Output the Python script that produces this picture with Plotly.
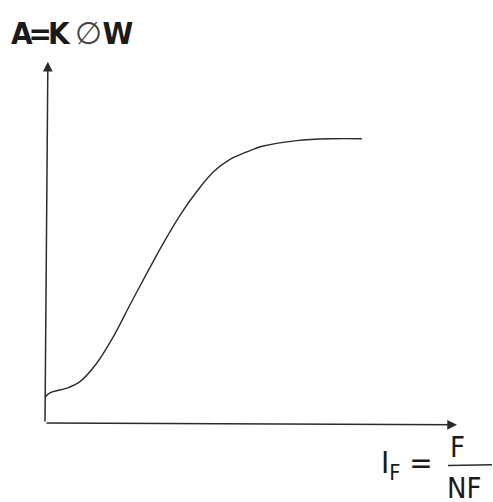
'''
    Magnetisation curve sketch
'''
import plotly.graph_objects as go

# field current (arbitrary units) and generated emf A = K*phi*w
field_current = [0.0, 0.12, 0.53, 0.85, 1.25, 1.66, 2.06, 2.47, 2.87, 3.28,
                 3.68, 4.09, 4.49, 4.90, 5.30, 6.11, 6.92, 7.69]
emf = [0.71, 0.83, 0.96, 1.14, 1.64, 2.38, 3.25, 4.12, 4.95, 5.73,
       6.37, 6.92, 7.26, 7.47, 7.63, 7.78, 7.83, 7.83]

x_label_top = 'F'
x_label_bottom = 'NF'
y_label = ('<span style="letter-spacing:-4px;font-weight:600">A=K</span>'
           '<span style="font-family:DejaVu Sans;font-weight:200;'
           'font-size:31px;color:#444"> ∅</span>'
           '<span style="font-weight:600;letter-spacing:-2px">W</span>')

ink = '#2b2b2b'
font = 'DejaVu Sans Condensed, Liberation Sans Narrow, sans-serif'

fig = go.Figure()

fig.add_trace(go.Scatter(
    x=field_current,
    y=emf,
    mode='lines',
    line=dict(color=ink, width=1.4, shape='spline', smoothing=1.0),
    hoverinfo='skip',
    showlegend=False
))

# axes drawn as arrows
fig.add_annotation(x=10.0, y=-0.05, ax=0.0, ay=0.0,
                   xref='x', yref='y', axref='x', ayref='y',
                   showarrow=True, arrowhead=2, arrowsize=1.3, arrowwidth=1.5,
                   arrowcolor=ink, text='')
fig.add_annotation(x=0.07, y=9.95, ax=0.0, ay=0.0,
                   xref='x', yref='y', axref='x', ayref='y',
                   showarrow=True, arrowhead=2, arrowsize=1.3, arrowwidth=1.5,
                   arrowcolor=ink, text='')

# axis labels
fig.add_annotation(x=-0.88, y=10.75, xref='x', yref='y', xanchor='left', yanchor='middle',
                   showarrow=False, text=y_label,
                   font=dict(family=font, size=31, color='#1a1a1a'))
fig.add_annotation(x=9.47, y=-1.14, xref='x', yref='y', xanchor='right', yanchor='middle',
                   showarrow=False, text='I<sub>F</sub> =',
                   font=dict(family=font, size=31, color='#1a1a1a'))
fig.add_annotation(x=10.02, y=-0.67, xref='x', yref='y', xanchor='center', yanchor='middle',
                   showarrow=False, text=x_label_top,
                   font=dict(family=font, size=29, color='#1a1a1a'))
fig.add_annotation(x=10.18, y=-1.78, xref='x', yref='y', xanchor='center', yanchor='middle',
                   showarrow=False, text=x_label_bottom,
                   font=dict(family=font, size=29, color='#1a1a1a'))
fig.add_shape(type='line', x0=9.78, x1=10.85, y0=-1.17, y1=-1.15,
              xref='x', yref='y', line=dict(color=ink, width=1.3))

fig.update_layout(
    width=493,
    height=502,
    margin=dict(l=0, r=0, t=0, b=0),
    paper_bgcolor='white',
    plot_bgcolor='white',
    xaxis=dict(range=[-1.092, 10.874], visible=False, fixedrange=True),
    yaxis=dict(range=[-2.176, 11.653], visible=False, fixedrange=True),
    dragmode=False
)

fig.write_html("out.html", config={'displayModeBar': False},
               post_script="document.body.style.margin='0px';")
